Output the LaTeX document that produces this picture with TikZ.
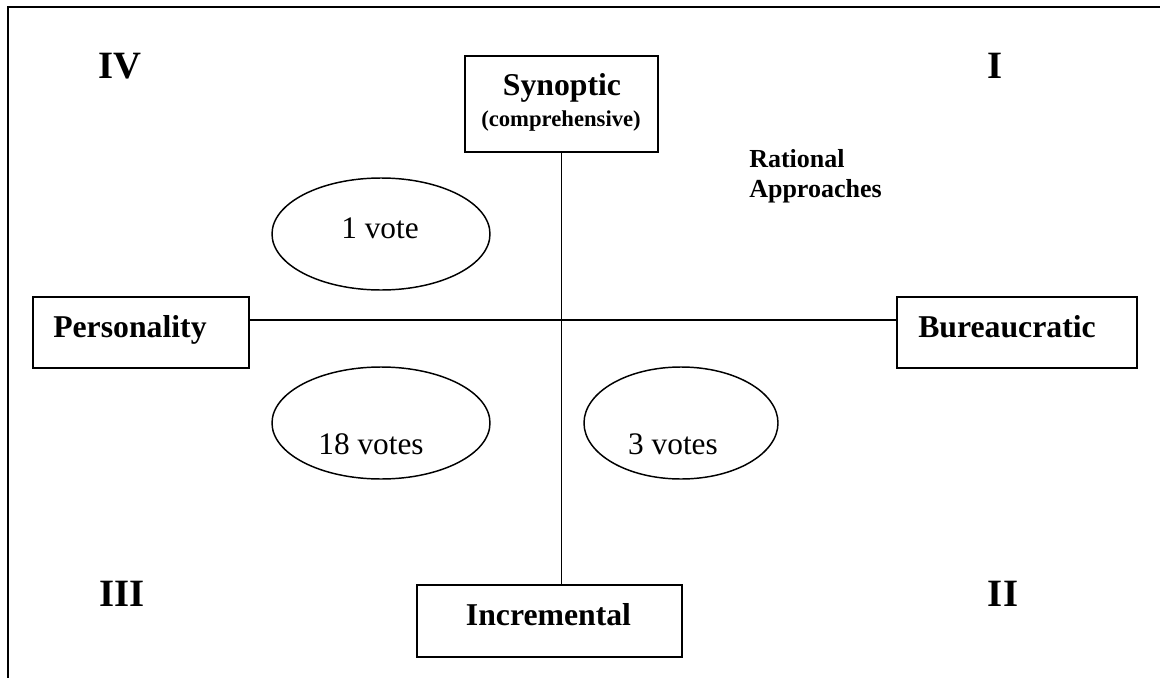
\documentclass[tikz,border=0pt]{standalone}
\usepackage{fontspec}
\setmainfont{Liberation Serif}
\usetikzlibrary{shapes.geometric}
\tikzset{
  boxnode/.style={draw, line width=1.5pt, rectangle, inner sep=0pt},
  oval/.style={draw, line width=1.1pt, ellipse, inner sep=0pt, minimum width=163.5pt, minimum height=84pt},
  axis/.style={line width=1.1pt},
  frame/.style={line width=1.6pt},
  txt/.style={inner sep=0pt, anchor=base},
  boxtxt/.style={txt, font=\bfseries\fontsize{23.8}{28}\selectfont},
  quad/.style={txt, font=\bfseries\fontsize{29}{34}\selectfont},
  smalltxt/.style={txt, font=\bfseries\fontsize{17}{20}\selectfont},
  ratxt/.style={inner sep=0pt, anchor=base west, font=\bfseries\fontsize{19.5}{23}\selectfont},
  votetxt/.style={txt, font=\fontsize{23.5}{28}\selectfont}
}
\begin{document}
\begin{tikzpicture}[x=0.75pt, y=-0.75pt]
\useasboundingbox (0,0) rectangle (1160,678);
% outer frame
\coordinate (fbl) at (8,678);
\coordinate (ftl) at (8,7);
\coordinate (ftr) at (1160,7);
\draw[frame] (fbl) -- (ftl) -- (ftr);

% boxes
\node[boxnode, minimum width=144.75pt, minimum height=72pt] (syn) at (561.5,104) {};
\node[boxnode, minimum width=162pt, minimum height=53.25pt] (pers) at (141,332.5) {};
\node[boxnode, minimum width=180pt, minimum height=53.25pt] (bur) at (1017,332.5) {};
\node[boxnode, minimum width=198.75pt, minimum height=54pt] (inc) at (549.5,621) {};

% box texts
\node[boxtxt] (synt) at (562,95) {Synoptic};
\node[smalltxt] (compt) at (561,126) {(comprehensive)};
\node[boxtxt, anchor=base west] (perst) at (53,337) {Personality};
\node[boxtxt, anchor=base west] (burt) at (918,337) {Bureaucratic};
\node[boxtxt] (inct) at (548.5,625) {Incremental};

% axes
\coordinate (c) at (562,320);
\draw[axis] (syn.south) -- (syn.south |- inc.north);
\draw[axis] (pers.east |- c) -- (bur.west |- c);

% ellipses
\node[oval] (e1) at (381,234) {};
\node[oval] (e2) at (381,423) {};
\node[oval, minimum width=145.5pt] (e3) at (681,423) {};
\node[votetxt] (v1) at (380,238) {1 vote};
\node[votetxt] (v2) at (371,454) {18 votes};
\node[votetxt] (v3) at (673,454) {3 votes};

% quadrant labels
\node[quad] (q4) at (120,78) {IV};
\node[quad] (q1) at (995,78) {I};
\node[quad] (q3) at (122,606) {III};
\node[quad] (q2) at (1003,606) {II};

% rational approaches
\node[ratxt] (rat1) at (749,167) {Rational};
\node[ratxt] (rat2) at (749,197) {Approaches};
\end{tikzpicture}
\end{document}
